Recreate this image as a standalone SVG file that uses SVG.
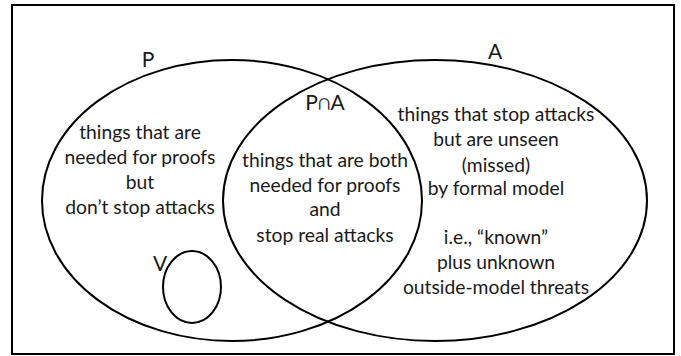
<svg xmlns="http://www.w3.org/2000/svg" width="681" height="356" viewBox="0 0 681 356">
<style>
.shape{fill:none;stroke:#000;stroke-width:2}
text{font-family:Lato,"Open Sans",sans-serif;font-size:19.3px;fill:#1a1a1a;text-anchor:middle}
.lbl{font-size:21px}
</style>
<rect x="0" y="0" width="681" height="356" fill="#fff"/>
<rect class="shape" x="12" y="5" width="662" height="349"/>
<g id="P">
<ellipse class="shape" cx="232" cy="200.5" rx="190" ry="140.5"/>
<text class="lbl" x="148" y="67">P</text>
<text x="140" y="139">things that are</text>
<text x="140" y="164">needed for proofs</text>
<text x="140" y="189">but</text>
<text x="140" y="214">don’t stop attacks</text>
</g>
<g id="A">
<ellipse class="shape" cx="435" cy="200.5" rx="212" ry="140.5"/>
<text class="lbl" x="495" y="59">A</text>
<text x="496" y="121">things that stop attacks</text>
<text x="496" y="146">but are unseen</text>
<text x="496" y="172">(missed)</text>
<text x="496" y="195">by formal model</text>
<text x="496" y="244">i.e., “known”</text>
<text x="496" y="269">plus unknown</text>
<text x="496" y="294">outside-model threats</text>
</g>
<g id="PA">
<text class="lbl" x="325" y="110">P∩A</text>
<text x="325" y="167">things that are both</text>
<text x="325" y="192">needed for proofs</text>
<text x="325" y="216">and</text>
<text x="325" y="242">stop real attacks</text>
</g>
<g id="V">
<ellipse class="shape" cx="192" cy="287" rx="29" ry="36"/>
<text class="lbl" x="160" y="271">V</text>
</g>
<g id="connectors"/>
</svg>
